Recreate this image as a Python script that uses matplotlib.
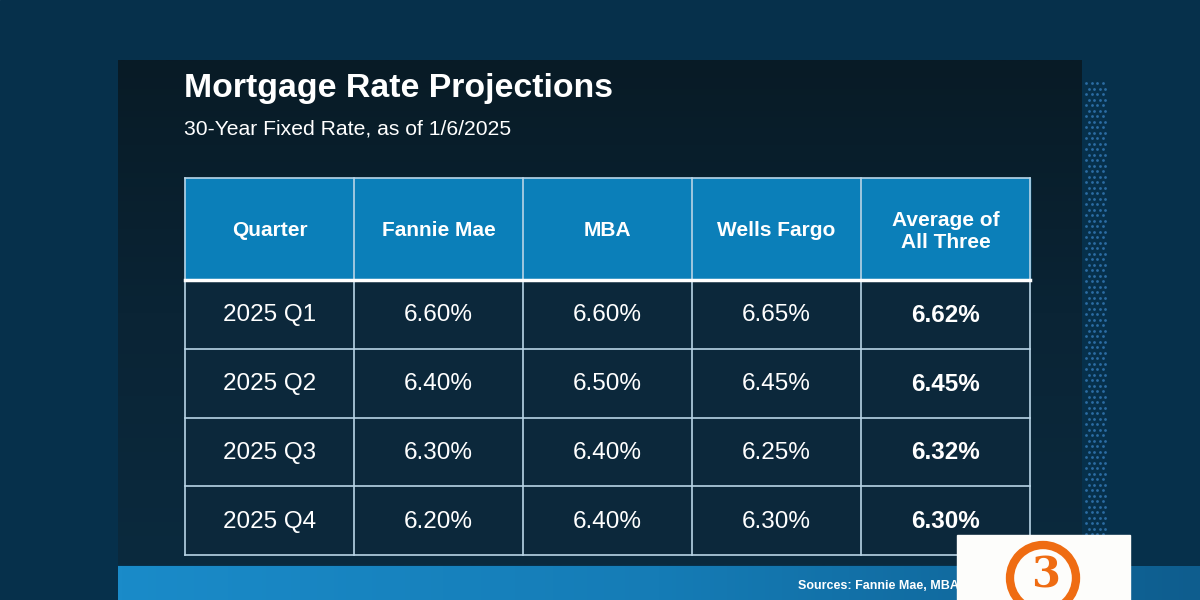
import numpy as np
import matplotlib; matplotlib.use("Agg")
import matplotlib.pyplot as plt
from matplotlib.patches import Rectangle, Circle
from matplotlib.colors import LinearSegmentedColormap

plt.rcParams["font.family"] = ["Liberation Sans", "DejaVu Sans"]

title = "Mortgage Rate Projections"
subtitle = "30-Year Fixed Rate, as of 1/6/2025"
headers = ["Quarter", "Fannie Mae", "MBA", "Wells Fargo", "Average of\nAll Three"]
quarters = ["2025 Q1", "2025 Q2", "2025 Q3", "2025 Q4"]
fannie_mae = [6.60, 6.40, 6.30, 6.20]
mba = [6.60, 6.50, 6.40, 6.40]
wells_fargo = [6.65, 6.45, 6.25, 6.30]
average = [6.62, 6.45, 6.32, 6.30]
source = "Sources: Fannie Mae, MBA, Wells Fargo"

W, H = 1200, 600
fig = plt.figure(figsize=(12, 6), dpi=100)
ax = fig.add_axes([0, 0, 1, 1])
ax.set_xlim(0, W); ax.set_ylim(H, 0); ax.axis("off")

# background
ax.add_patch(Rectangle((0, 0), W, H, color="#06304b", zorder=0))
# dark panel with slight vertical gradient
grad = np.linspace(0, 1, 256).reshape(-1, 1)
pcmap = LinearSegmentedColormap.from_list("p", ["#081b26", "#0a2435", "#0b2a3e"])
ax.imshow(grad, cmap=pcmap, extent=(118, 1082, 565, 60), aspect="auto", zorder=1)
# dotted strip
gx, gy = np.meshgrid(np.arange(1086, 1103, 5.5), np.arange(83, 600, 5.5))
gx[1::2] += 2.75
ax.scatter(gx.ravel(), gy.ravel(), s=4, color="#2b6ca3", linewidths=0, zorder=1)

ax.text(184, 89, title, color="white", fontsize=24.4, fontweight="bold", va="center", zorder=5)
ax.text(184, 129, subtitle, color="white", fontsize=15.2, va="center", zorder=5)

# table
col_x = np.linspace(185, 1030, len(headers) + 1)
head_top, head_bot = 178, 280
row_h = (555 - head_bot) / len(quarters)
ax.add_patch(Rectangle((col_x[0], head_top), col_x[-1] - col_x[0], head_bot - head_top,
                       color="#0b7fb9", zorder=2))
ax.add_patch(Rectangle((col_x[0], head_bot), col_x[-1] - col_x[0], row_h * len(quarters),
                       color="#0c283b", zorder=2))
line_c = "#b8d4e6"
for x in col_x:
    ax.plot([x, x], [head_top, head_bot + row_h * len(quarters)], color=line_c, lw=1.2, zorder=3)
ax.plot([col_x[0], col_x[-1]], [head_top, head_top], color=line_c, lw=1.2, zorder=3)
ax.plot([col_x[0], col_x[-1]], [head_bot, head_bot], color="white", lw=2.5, zorder=3)
for i in range(1, len(quarters) + 1):
    y = head_bot + row_h * i
    ax.plot([col_x[0], col_x[-1]], [y, y], color=line_c, lw=1.2, zorder=3)

cx = (col_x[:-1] + col_x[1:]) / 2
for j, h in enumerate(headers):
    ax.text(cx[j], (head_top + head_bot) / 2 + 2, h, color="white", fontsize=15, fontweight="bold",
            ha="center", va="center", linespacing=1.2, zorder=5)

for i, q in enumerate(quarters):
    yc = head_bot + row_h * (i + 0.5)
    vals = [q, f"{fannie_mae[i]:.2f}%", f"{mba[i]:.2f}%", f"{wells_fargo[i]:.2f}%", f"{average[i]:.2f}%"]
    for j, v in enumerate(vals):
        ax.text(cx[j], yc + 1, v, color="white", fontsize=17.5, ha="center", va="center",
                fontweight="bold" if j == len(vals) - 1 else "normal", zorder=5)

# bottom band
bcmap = LinearSegmentedColormap.from_list("b", ["#1a8bc9", "#157cb6", "#0e5d8e"])
ax.imshow(np.linspace(0, 1, 256).reshape(1, -1), cmap=bcmap, extent=(118, 1200, 600, 566),
          aspect="auto", zorder=2)
ax.text(798, 586, source, color="white", fontsize=9, fontweight="bold", va="center", zorder=5)

# logo
ax.add_patch(Rectangle((957, 535), 173, 65, color="#fdfdfb", zorder=6))
ax.add_patch(Circle((1043, 578), 33, fill=False, ec="#ef6c12", lw=6, zorder=7))
ax.text(1045, 576, "3", color="#ef6c12", fontsize=30, fontweight="bold", ha="center", va="center",
        family=["DejaVu Serif"], zorder=7)

fig.savefig("out.png", dpi=100)
plt.close(fig)
